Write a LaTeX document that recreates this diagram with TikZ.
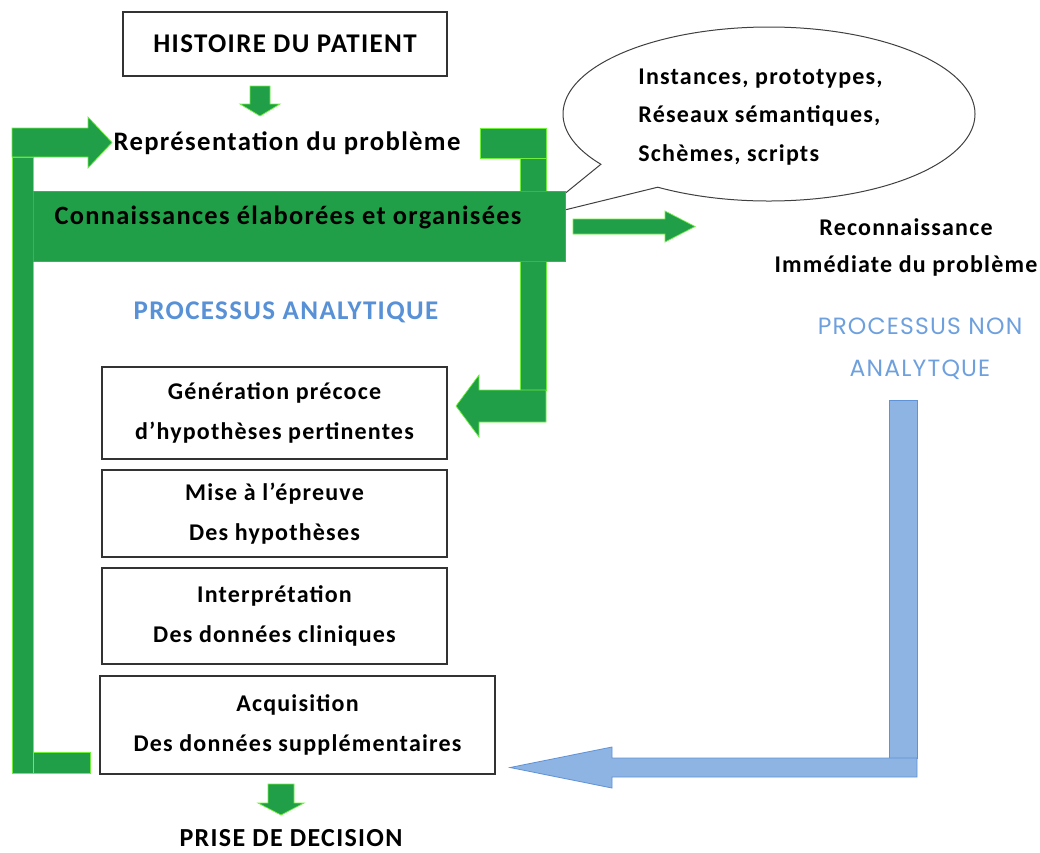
\documentclass[tikz,border=0pt]{standalone}
\usepackage{fontspec}
\setmainfont{Carlito}[LetterSpace=5]
\newfontfamily\poppins{Poppins}[LetterSpace=5]
\usetikzlibrary{shapes.callouts}

\definecolor{vert}{RGB}{33,158,72}
\definecolor{vertclair}{RGB}{110,240,60}
\definecolor{bleu}{RGB}{142,180,227}
\definecolor{bleutrait}{RGB}{96,146,214}
\definecolor{bleutexte}{RGB}{88,145,214}
\definecolor{bleupale}{RGB}{110,160,222}

\begin{document}
\begin{tikzpicture}[x=1pt, y=-1pt,
	boite/.style={draw=black!80, line width=1.2pt, align=center, inner sep=0pt,
		font=\bfseries\fontsize{24}{40}\selectfont},
	titre/.style={align=center, inner sep=0pt, font=\bfseries\fontsize{26}{38}\selectfont},
	bloc/.style={fill=vert, draw=vertclair, line width=0.7pt},
	blocbleu/.style={fill=bleu, draw=bleutrait, line width=0.8pt}]
		\useasboundingbox (0,0) rectangle (1040,852);

		% bulle des connaissances
		\node[ellipse callout, draw=black!75, line width=1pt, fill=white,
			minimum width=412pt, minimum height=174pt, inner sep=0pt,
			callout absolute pointer={(536,217)}, callout pointer arc=22] (bulle) at (769,114) {};
		\node[align=left, inner sep=0pt, font=\bfseries\fontsize{24}{38.5}\selectfont] (bulletxt) at (760.5,117)
			{Instances, prototypes,\\Réseaux sémantiques,\\Schèmes, scripts};

		\node[boite, minimum width=324pt, minimum height=64pt, font=\bfseries\fontsize{27}{30}\selectfont] (histoire) at (285,44) {HISTOIRE DU PATIENT};
		\node[titre, font=\bfseries\fontsize{26.7}{30}\selectfont] (repr) at (287,143) {Représentation du problème};

		% fleches vertes
		\draw[bloc] (250,86) -- (270,86) -- (270,104) -- (280,104) -- (260,116) -- (240,104) -- (250,104) -- cycle;
		\draw[bloc] (480,128) rectangle (546,158);
		\draw[bloc] (520,158) rectangle (546,390);
		\draw[bloc] (546,390) -- (546,422) -- (479,422) -- (479,437) -- (456,406) -- (479,375) -- (479,390) -- cycle;
		\draw[bloc] (12,157) rectangle (33,773);
		\draw[bloc] (33,752) rectangle (90,773);
		\draw[bloc] (12,128) -- (88,128) -- (88,117) -- (112,142.5) -- (88,168) -- (88,157) -- (12,157) -- cycle;
		\draw[bloc] (573,219) -- (665,219) -- (665,211) -- (695,226.5) -- (665,242) -- (665,234) -- (573,234) -- cycle;
		\draw[bloc] (268,784) -- (294,784) -- (294,803) -- (304,803) -- (281,815) -- (258,803) -- (268,803) -- cycle;

		\node[fill=vert, draw=vert!85!white, line width=0.6pt, minimum width=532pt, minimum height=70pt] (conn) at (299,226) {};
		\node[titre, font=\bfseries\fontsize{26.4}{30}\selectfont] (conntxt) at (288,217) {Connaissances élaborées et organisées};

		% fleche bleue
		\draw[blocbleu] (889,400) rectangle (917,758);
		\draw[blocbleu] (917,758) -- (917,777) -- (612,777) -- (612,788) -- (510,767.5) -- (612,747) -- (612,758) -- cycle;

		\node[titre, font=\bfseries\fontsize{27}{30}\selectfont, text=bleutexte] (analytique) at (286,312) {PROCESSUS ANALYTIQUE};
		\node[titre, font=\poppins\fontsize{23.5}{42}\selectfont, text=bleupale] (nonanalytique) at (920,349) {PROCESSUS NON\\ANALYTQUE};
		\node[titre, font=\bfseries\fontsize{24}{37}\selectfont] (reconn) at (906,247) {Reconnaissance\\Immédiate du problème};

		\node[boite, minimum width=345pt, minimum height=92pt] (gen) at (274.5,413) {Génération précoce\\d’hypothèses pertinentes};
		\node[boite, minimum width=345pt, minimum height=87pt] (mise) at (274.5,513.5) {Mise à l’épreuve\\Des hypothèses};
		\node[boite, minimum width=345pt, minimum height=96pt] (interp) at (274.5,616) {Interprétation\\Des données cliniques};
		\node[boite, minimum width=395pt, minimum height=98pt] (acq) at (297.5,725) {Acquisition\\Des données supplémentaires};

		\node[titre, font=\bfseries\fontsize{26}{30}\selectfont] (decision) at (291,838) {PRISE DE DECISION};
	\end{tikzpicture}
\end{document}
